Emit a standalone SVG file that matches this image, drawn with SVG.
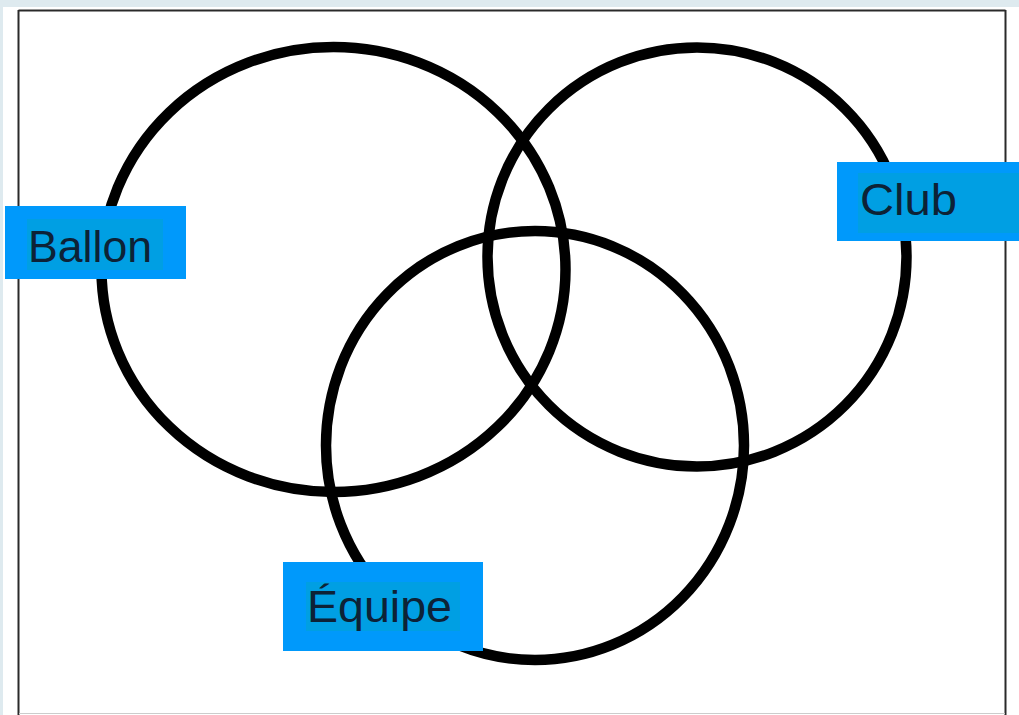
<svg xmlns="http://www.w3.org/2000/svg" width="1019" height="715" viewBox="0 0 1019 715">
  <style>
    .ring { fill: none; stroke: #000; stroke-width: 10.5; }
    .box { fill: #0099fb; }
    .hl { fill: #009fe3; }
    .lbl { font-family: "Liberation Sans", Arial, sans-serif; font-size: 44px; fill: #0d2236; }
    .frame { stroke: #2a2a2a; stroke-width: 2; }
  </style>
  <rect x="0" y="0" width="1019" height="715" fill="#deeaef"/>
  <rect x="3" y="7" width="1016" height="708" fill="#ffffff"/>
  <g id="frame">
    <line class="frame" x1="18.5" y1="10.5" x2="1005.5" y2="10.5"/>
    <line class="frame" x1="18.5" y1="10" x2="18.5" y2="715"/>
    <line class="frame" x1="1005.5" y1="10" x2="1005.5" y2="715"/>
    <line x1="19" y1="713.5" x2="1005" y2="713.5" stroke="#cccccc" stroke-width="1"/>
  </g>
  <g id="connectors"></g>
  <g id="ballon">
    <ellipse class="ring" cx="333.5" cy="269.5" rx="232" ry="222.5"/>
  </g>
  <g id="club">
    <ellipse class="ring" cx="697" cy="257" rx="209.5" ry="209.5"/>
  </g>
  <g id="equipe">
    <ellipse class="ring" cx="535" cy="445.5" rx="209" ry="214.5"/>
  </g>
  <g id="label-ballon">
    <rect class="box" x="5" y="206" width="181" height="73"/>
    <rect class="hl" x="27" y="219" width="136" height="51"/>
    <text class="lbl" x="28" y="262" textLength="124" lengthAdjust="spacingAndGlyphs">Ballon</text>
  </g>
  <g id="label-club">
    <rect class="box" x="837" y="162" width="182" height="79"/>
    <rect class="hl" x="858" y="173" width="161" height="60"/>
    <text class="lbl" x="860" y="215" textLength="97" lengthAdjust="spacingAndGlyphs">Club</text>
  </g>
  <g id="label-equipe">
    <rect class="box" x="283" y="562" width="200" height="89"/>
    <rect class="hl" x="306" y="582" width="154" height="49"/>
    <text class="lbl" x="307" y="622" textLength="145" lengthAdjust="spacingAndGlyphs">Équipe</text>
  </g>
</svg>
